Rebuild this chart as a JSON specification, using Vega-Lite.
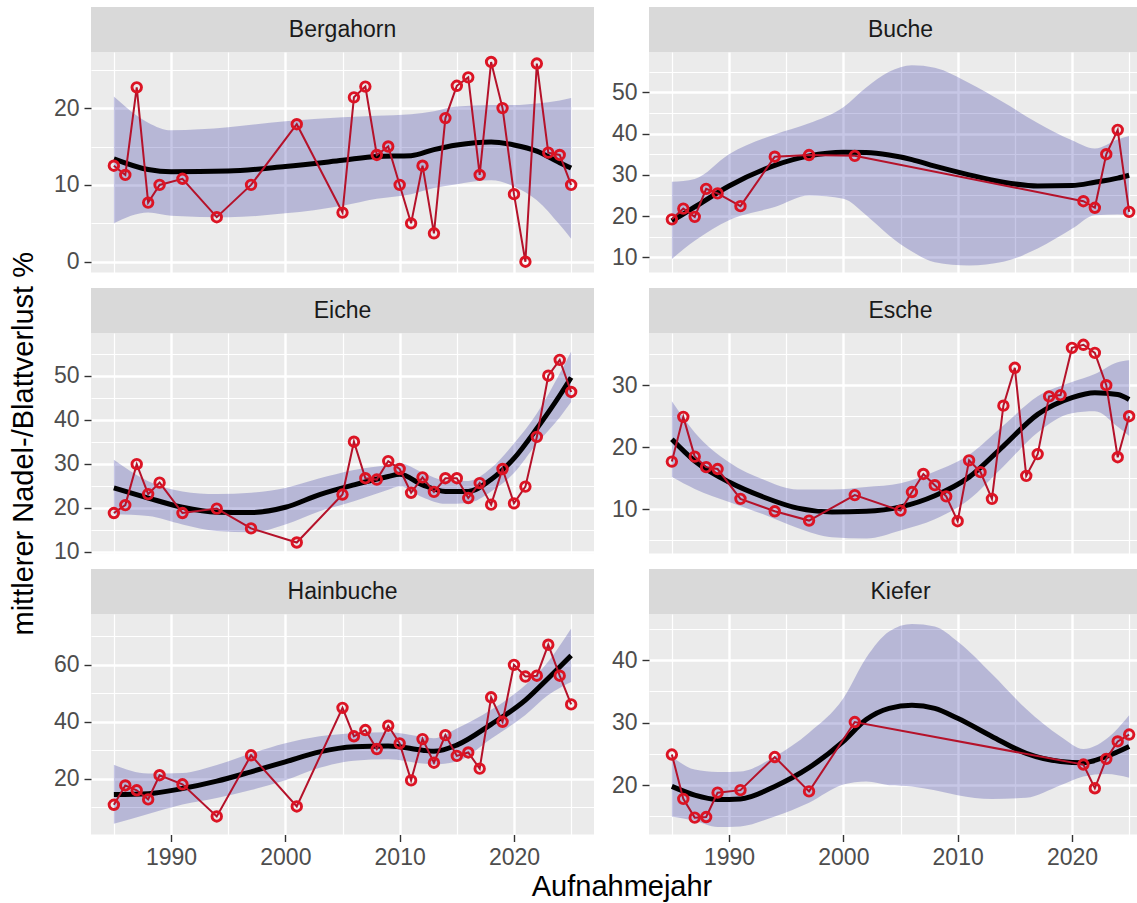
{
  "$schema": "https://vega.github.io/schema/vega-lite/v6.json",
  "padding": {"left": 9, "top": 7, "right": 0, "bottom": 0},
  "config": {
    "font": "Liberation Sans",
    "view": {"stroke": null},
    "axis": {"domain": false, "gridColor": "#FFFFFF", "tickColor": "#333333", "tickSize": 7, "tickWidth": 1.4, "labelFont": "Liberation Sans", "labelFontSize": 23, "labelColor": "#4D4D4D", "labelPadding": 5, "labelOverlap": false, "labelFlush": false, "titleFont": "Liberation Sans", "titleFontSize": 29, "titleFontWeight": "normal", "titleColor": "#000000"}
  },
  "datasets": {
    "pts": [
      {"sp":"Bergahorn","year":1985,"v":12.5},{"sp":"Bergahorn","year":1986,"v":11.3},{"sp":"Bergahorn","year":1987,"v":22.7},{"sp":"Bergahorn","year":1988,"v":7.7},{"sp":"Bergahorn","year":1989,"v":10.0},{"sp":"Bergahorn","year":1991,"v":10.8},{"sp":"Bergahorn","year":1994,"v":5.8},{"sp":"Bergahorn","year":1997,"v":10.0},{"sp":"Bergahorn","year":2001,"v":17.9},{"sp":"Bergahorn","year":2005,"v":6.4},{"sp":"Bergahorn","year":2006,"v":21.4},{"sp":"Bergahorn","year":2007,"v":22.8},{"sp":"Bergahorn","year":2008,"v":13.9},{"sp":"Bergahorn","year":2009,"v":15.0},{"sp":"Bergahorn","year":2010,"v":10.0},{"sp":"Bergahorn","year":2011,"v":5.0},{"sp":"Bergahorn","year":2012,"v":12.5},{"sp":"Bergahorn","year":2013,"v":3.7},{"sp":"Bergahorn","year":2014,"v":18.7},{"sp":"Bergahorn","year":2015,"v":22.9},{"sp":"Bergahorn","year":2016,"v":24.0},{"sp":"Bergahorn","year":2017,"v":11.3},{"sp":"Bergahorn","year":2018,"v":26.0},{"sp":"Bergahorn","year":2019,"v":20.0},{"sp":"Bergahorn","year":2020,"v":8.8},{"sp":"Bergahorn","year":2021,"v":0.0},{"sp":"Bergahorn","year":2022,"v":25.8},{"sp":"Bergahorn","year":2023,"v":14.2},{"sp":"Bergahorn","year":2024,"v":13.9},{"sp":"Bergahorn","year":2025,"v":10.0},
      {"sp":"Buche","year":1985,"v":19.2},{"sp":"Buche","year":1986,"v":21.8},{"sp":"Buche","year":1987,"v":19.8},{"sp":"Buche","year":1988,"v":26.6},{"sp":"Buche","year":1989,"v":25.5},{"sp":"Buche","year":1991,"v":22.4},{"sp":"Buche","year":1994,"v":34.4},{"sp":"Buche","year":1997,"v":34.8},{"sp":"Buche","year":2001,"v":34.6},{"sp":"Buche","year":2021,"v":23.6},{"sp":"Buche","year":2022,"v":22.0},{"sp":"Buche","year":2023,"v":35.0},{"sp":"Buche","year":2024,"v":40.9},{"sp":"Buche","year":2025,"v":21.0},
      {"sp":"Eiche","year":1985,"v":18.8},{"sp":"Eiche","year":1986,"v":20.6},{"sp":"Eiche","year":1987,"v":29.9},{"sp":"Eiche","year":1988,"v":23.1},{"sp":"Eiche","year":1989,"v":25.7},{"sp":"Eiche","year":1991,"v":18.8},{"sp":"Eiche","year":1994,"v":19.8},{"sp":"Eiche","year":1997,"v":15.3},{"sp":"Eiche","year":2001,"v":12.1},{"sp":"Eiche","year":2005,"v":23.0},{"sp":"Eiche","year":2006,"v":35.0},{"sp":"Eiche","year":2007,"v":26.7},{"sp":"Eiche","year":2008,"v":26.4},{"sp":"Eiche","year":2009,"v":30.6},{"sp":"Eiche","year":2010,"v":28.8},{"sp":"Eiche","year":2011,"v":23.4},{"sp":"Eiche","year":2012,"v":26.9},{"sp":"Eiche","year":2013,"v":23.6},{"sp":"Eiche","year":2014,"v":26.7},{"sp":"Eiche","year":2015,"v":26.7},{"sp":"Eiche","year":2016,"v":22.2},{"sp":"Eiche","year":2017,"v":25.6},{"sp":"Eiche","year":2018,"v":20.7},{"sp":"Eiche","year":2019,"v":28.8},{"sp":"Eiche","year":2020,"v":21.0},{"sp":"Eiche","year":2021,"v":24.8},{"sp":"Eiche","year":2022,"v":36.1},{"sp":"Eiche","year":2023,"v":50.0},{"sp":"Eiche","year":2024,"v":53.6},{"sp":"Eiche","year":2025,"v":46.3},
      {"sp":"Esche","year":1985,"v":17.7},{"sp":"Esche","year":1986,"v":24.9},{"sp":"Esche","year":1987,"v":18.5},{"sp":"Esche","year":1988,"v":16.8},{"sp":"Esche","year":1989,"v":16.5},{"sp":"Esche","year":1991,"v":11.7},{"sp":"Esche","year":1994,"v":9.7},{"sp":"Esche","year":1997,"v":8.2},{"sp":"Esche","year":2001,"v":12.3},{"sp":"Esche","year":2005,"v":9.8},{"sp":"Esche","year":2006,"v":12.8},{"sp":"Esche","year":2007,"v":15.7},{"sp":"Esche","year":2008,"v":13.9},{"sp":"Esche","year":2009,"v":12.1},{"sp":"Esche","year":2010,"v":8.1},{"sp":"Esche","year":2011,"v":17.9},{"sp":"Esche","year":2012,"v":16.0},{"sp":"Esche","year":2013,"v":11.7},{"sp":"Esche","year":2014,"v":26.7},{"sp":"Esche","year":2015,"v":32.8},{"sp":"Esche","year":2016,"v":15.4},{"sp":"Esche","year":2017,"v":18.9},{"sp":"Esche","year":2018,"v":28.2},{"sp":"Esche","year":2019,"v":28.4},{"sp":"Esche","year":2020,"v":36.0},{"sp":"Esche","year":2021,"v":36.5},{"sp":"Esche","year":2022,"v":35.2},{"sp":"Esche","year":2023,"v":30.0},{"sp":"Esche","year":2024,"v":18.4},{"sp":"Esche","year":2025,"v":25.0},
      {"sp":"Hainbuche","year":1985,"v":10.8},{"sp":"Hainbuche","year":1986,"v":17.6},{"sp":"Hainbuche","year":1987,"v":15.9},{"sp":"Hainbuche","year":1988,"v":12.7},{"sp":"Hainbuche","year":1989,"v":21.2},{"sp":"Hainbuche","year":1991,"v":18.0},{"sp":"Hainbuche","year":1994,"v":6.7},{"sp":"Hainbuche","year":1997,"v":28.2},{"sp":"Hainbuche","year":2001,"v":10.2},{"sp":"Hainbuche","year":2005,"v":44.9},{"sp":"Hainbuche","year":2006,"v":34.9},{"sp":"Hainbuche","year":2007,"v":37.1},{"sp":"Hainbuche","year":2008,"v":30.4},{"sp":"Hainbuche","year":2009,"v":38.6},{"sp":"Hainbuche","year":2010,"v":32.4},{"sp":"Hainbuche","year":2011,"v":19.4},{"sp":"Hainbuche","year":2012,"v":33.9},{"sp":"Hainbuche","year":2013,"v":25.6},{"sp":"Hainbuche","year":2014,"v":35.3},{"sp":"Hainbuche","year":2015,"v":28.0},{"sp":"Hainbuche","year":2016,"v":29.2},{"sp":"Hainbuche","year":2017,"v":23.5},{"sp":"Hainbuche","year":2018,"v":48.6},{"sp":"Hainbuche","year":2019,"v":40.0},{"sp":"Hainbuche","year":2020,"v":60.0},{"sp":"Hainbuche","year":2021,"v":55.9},{"sp":"Hainbuche","year":2022,"v":56.2},{"sp":"Hainbuche","year":2023,"v":67.1},{"sp":"Hainbuche","year":2024,"v":56.2},{"sp":"Hainbuche","year":2025,"v":46.1},
      {"sp":"Kiefer","year":1985,"v":24.9},{"sp":"Kiefer","year":1986,"v":17.8},{"sp":"Kiefer","year":1987,"v":14.8},{"sp":"Kiefer","year":1988,"v":14.9},{"sp":"Kiefer","year":1989,"v":18.8},{"sp":"Kiefer","year":1991,"v":19.2},{"sp":"Kiefer","year":1994,"v":24.5},{"sp":"Kiefer","year":1997,"v":19.0},{"sp":"Kiefer","year":2001,"v":30.1},{"sp":"Kiefer","year":2021,"v":23.3},{"sp":"Kiefer","year":2022,"v":19.5},{"sp":"Kiefer","year":2023,"v":24.2},{"sp":"Kiefer","year":2024,"v":27.0},{"sp":"Kiefer","year":2025,"v":28.1}
    ],
    "fit": [
      {"sp":"Bergahorn","year":1985,"v":13.4,"lo":5.0,"hi":21.5},{"sp":"Bergahorn","year":1988,"v":12.0,"lo":6.4,"hi":18.1},{"sp":"Bergahorn","year":1990,"v":11.7,"lo":6.0,"hi":17.1},{"sp":"Bergahorn","year":1995,"v":11.8,"lo":5.8,"hi":17.5},{"sp":"Bergahorn","year":2000,"v":12.4,"lo":6.3,"hi":18.3},{"sp":"Bergahorn","year":2005,"v":13.2,"lo":7.3,"hi":18.8},{"sp":"Bergahorn","year":2008,"v":13.7,"lo":8.2,"hi":19.0},{"sp":"Bergahorn","year":2011,"v":13.8,"lo":8.8,"hi":19.2},{"sp":"Bergahorn","year":2013,"v":14.6,"lo":9.6,"hi":19.6},{"sp":"Bergahorn","year":2015,"v":15.2,"lo":10.1,"hi":20.2},{"sp":"Bergahorn","year":2018,"v":15.6,"lo":10.6,"hi":20.4},{"sp":"Bergahorn","year":2020,"v":15.2,"lo":9.8,"hi":20.4},{"sp":"Bergahorn","year":2022,"v":14.4,"lo":8.0,"hi":20.6},{"sp":"Bergahorn","year":2024,"v":12.9,"lo":4.8,"hi":21.0},{"sp":"Bergahorn","year":2025,"v":12.2,"lo":3.0,"hi":21.3},
      {"sp":"Buche","year":1985,"v":18.8,"lo":9.6,"hi":28.3},{"sp":"Buche","year":1987,"v":22.2,"lo":14.0,"hi":29.0},{"sp":"Buche","year":1990,"v":27.3,"lo":19.0,"hi":35.0},{"sp":"Buche","year":1994,"v":32.3,"lo":22.2,"hi":39.8},{"sp":"Buche","year":1997,"v":34.6,"lo":25.0,"hi":42.5},{"sp":"Buche","year":2000,"v":35.5,"lo":24.2,"hi":46.4},{"sp":"Buche","year":2002,"v":35.4,"lo":20.2,"hi":51.2},{"sp":"Buche","year":2004,"v":34.8,"lo":15.3,"hi":55.0},{"sp":"Buche","year":2006,"v":33.7,"lo":11.4,"hi":56.6},{"sp":"Buche","year":2008,"v":32.1,"lo":8.8,"hi":56.0},{"sp":"Buche","year":2011,"v":30.0,"lo":8.0,"hi":52.3},{"sp":"Buche","year":2014,"v":28.2,"lo":8.9,"hi":47.6},{"sp":"Buche","year":2017,"v":27.3,"lo":12.1,"hi":42.6},{"sp":"Buche","year":2020,"v":27.4,"lo":16.9,"hi":38.4},{"sp":"Buche","year":2022,"v":28.2,"lo":20.2,"hi":36.4},{"sp":"Buche","year":2024,"v":29.2,"lo":20.4,"hi":38.6},{"sp":"Buche","year":2025,"v":29.9,"lo":20.2,"hi":39.4},
      {"sp":"Eiche","year":1985,"v":24.5,"lo":18.5,"hi":30.9},{"sp":"Eiche","year":1988,"v":22.2,"lo":18.1,"hi":26.0},{"sp":"Eiche","year":1991,"v":20.1,"lo":16.2,"hi":23.7},{"sp":"Eiche","year":1994,"v":19.0,"lo":14.7,"hi":23.1},{"sp":"Eiche","year":1997,"v":18.9,"lo":14.4,"hi":23.4},{"sp":"Eiche","year":2000,"v":20.1,"lo":16.2,"hi":24.5},{"sp":"Eiche","year":2003,"v":23.0,"lo":19.2,"hi":26.7},{"sp":"Eiche","year":2006,"v":25.2,"lo":21.5,"hi":28.6},{"sp":"Eiche","year":2009,"v":27.1,"lo":24.1,"hi":29.7},{"sp":"Eiche","year":2010,"v":27.6,"lo":24.9,"hi":30.1},{"sp":"Eiche","year":2012,"v":25.2,"lo":22.4,"hi":28.0},{"sp":"Eiche","year":2014,"v":23.7,"lo":20.9,"hi":26.2},{"sp":"Eiche","year":2016,"v":23.7,"lo":21.1,"hi":26.1},{"sp":"Eiche","year":2018,"v":26.4,"lo":23.7,"hi":29.0},{"sp":"Eiche","year":2020,"v":31.2,"lo":27.9,"hi":34.6},{"sp":"Eiche","year":2022,"v":38.0,"lo":34.6,"hi":41.4},{"sp":"Eiche","year":2024,"v":45.5,"lo":40.5,"hi":50.5},{"sp":"Eiche","year":2025,"v":49.6,"lo":44.0,"hi":55.5},
      {"sp":"Esche","year":1985,"v":21.3,"lo":15.2,"hi":27.4},{"sp":"Esche","year":1987,"v":17.8,"lo":13.3,"hi":22.4},{"sp":"Esche","year":1990,"v":14.4,"lo":11.2,"hi":17.6},{"sp":"Esche","year":1993,"v":12.0,"lo":9.2,"hi":14.8},{"sp":"Esche","year":1996,"v":10.2,"lo":7.0,"hi":13.2},{"sp":"Esche","year":1999,"v":9.6,"lo":5.5,"hi":13.2},{"sp":"Esche","year":2002,"v":9.7,"lo":5.3,"hi":13.6},{"sp":"Esche","year":2005,"v":10.4,"lo":6.6,"hi":14.2},{"sp":"Esche","year":2008,"v":12.2,"lo":8.4,"hi":16.1},{"sp":"Esche","year":2011,"v":15.2,"lo":11.6,"hi":18.8},{"sp":"Esche","year":2014,"v":20.2,"lo":16.9,"hi":23.5},{"sp":"Esche","year":2017,"v":25.3,"lo":22.4,"hi":28.2},{"sp":"Esche","year":2020,"v":28.0,"lo":25.5,"hi":30.5},{"sp":"Esche","year":2022,"v":28.8,"lo":25.8,"hi":31.8},{"sp":"Esche","year":2024,"v":28.5,"lo":23.3,"hi":33.7},{"sp":"Esche","year":2025,"v":27.7,"lo":21.8,"hi":34.0},
      {"sp":"Hainbuche","year":1985,"v":14.4,"lo":4.1,"hi":24.9},{"sp":"Hainbuche","year":1988,"v":14.7,"lo":7.6,"hi":21.8},{"sp":"Hainbuche","year":1991,"v":16.5,"lo":10.9,"hi":22.0},{"sp":"Hainbuche","year":1994,"v":19.1,"lo":13.2,"hi":24.8},{"sp":"Hainbuche","year":1997,"v":22.4,"lo":16.0,"hi":28.8},{"sp":"Hainbuche","year":2000,"v":25.9,"lo":19.4,"hi":32.4},{"sp":"Hainbuche","year":2003,"v":29.4,"lo":23.8,"hi":34.9},{"sp":"Hainbuche","year":2006,"v":31.2,"lo":26.3,"hi":36.0},{"sp":"Hainbuche","year":2009,"v":31.5,"lo":26.8,"hi":36.3},{"sp":"Hainbuche","year":2012,"v":30.0,"lo":25.3,"hi":34.7},{"sp":"Hainbuche","year":2013,"v":29.6,"lo":25.0,"hi":34.2},{"sp":"Hainbuche","year":2015,"v":31.8,"lo":26.0,"hi":37.6},{"sp":"Hainbuche","year":2018,"v":39.1,"lo":34.0,"hi":44.2},{"sp":"Hainbuche","year":2021,"v":47.6,"lo":42.4,"hi":52.9},{"sp":"Hainbuche","year":2023,"v":55.3,"lo":49.4,"hi":61.2},{"sp":"Hainbuche","year":2025,"v":63.3,"lo":54.0,"hi":72.8},
      {"sp":"Kiefer","year":1985,"v":19.8,"lo":15.0,"hi":24.6},{"sp":"Kiefer","year":1987,"v":18.4,"lo":14.3,"hi":22.5},{"sp":"Kiefer","year":1989,"v":17.7,"lo":13.3,"hi":22.1},{"sp":"Kiefer","year":1991,"v":17.8,"lo":13.4,"hi":22.2},{"sp":"Kiefer","year":1994,"v":19.8,"lo":15.0,"hi":24.6},{"sp":"Kiefer","year":1997,"v":22.8,"lo":17.2,"hi":28.4},{"sp":"Kiefer","year":2000,"v":27.0,"lo":20.1,"hi":33.9},{"sp":"Kiefer","year":2002,"v":30.5,"lo":20.6,"hi":40.4},{"sp":"Kiefer","year":2004,"v":32.3,"lo":20.0,"hi":44.6},{"sp":"Kiefer","year":2006,"v":32.8,"lo":19.8,"hi":45.8},{"sp":"Kiefer","year":2008,"v":32.3,"lo":19.2,"hi":45.4},{"sp":"Kiefer","year":2010,"v":30.7,"lo":18.4,"hi":43.0},{"sp":"Kiefer","year":2013,"v":27.8,"lo":17.8,"hi":37.8},{"sp":"Kiefer","year":2016,"v":25.1,"lo":18.0,"hi":32.2},{"sp":"Kiefer","year":2019,"v":23.8,"lo":20.0,"hi":27.8},{"sp":"Kiefer","year":2021,"v":23.6,"lo":21.4,"hi":25.8},{"sp":"Kiefer","year":2023,"v":24.6,"lo":21.8,"hi":27.4},{"sp":"Kiefer","year":2025,"v":26.2,"lo":21.2,"hi":31.2}
    ]
  },
  "bounds": "flush",
  "align": "each",
  "columns": 2,
  "spacing": {"row": 0, "column": 55},
  "concat": [
    {"width": 503, "height": 45, "view": {"fill": "#D9D9D9", "stroke": null}, "data": {"values": [{"sp": "Bergahorn"}]}, "mark": {"type": "text", "fontSize": 23, "color": "#1A1A1A", "font": "Liberation Sans"}, "encoding": {"text": {"field": "sp", "type": "nominal"}}},
    {"width": 503, "height": 45, "view": {"fill": "#D9D9D9", "stroke": null}, "data": {"values": [{"sp": "Buche"}]}, "mark": {"type": "text", "fontSize": 23, "color": "#1A1A1A", "font": "Liberation Sans"}, "encoding": {"text": {"field": "sp", "type": "nominal"}}},
    {"width": 503, "height": 220.5, "view": {"fill": "#EBEBEB", "stroke": null},
     "encoding": {
       "x": {"field": "year", "type": "quantitative", "scale": {"domain": [1983, 2027], "nice": false, "zero": false}, "axis": {"title": null, "values": [1985,1990,1995,2000,2005,2010,2015,2020,2025], "labels": false, "ticks": false, "gridWidth": {"condition": {"test": "datum.value % 10 === 0", "value": 2.4}, "value": 1.2}}},
       "y": {"field": "v", "type": "quantitative", "scale": {"domain": [-1.4, 27.3], "nice": false, "zero": false}, "axis": {"title": null, "values": [0,5,10,15,20,25], "gridWidth": {"condition": {"test": "datum.value % 10 === 0", "value": 2.4}, "value": 1.2}, "tickOpacity": {"condition": {"test": "datum.value % 10 === 0", "value": 1}, "value": 0}, "labelExpr": "datum.value % 10 === 0 ? datum.label : ''"}}
     },
     "layer": [
       {"data": {"name": "fit"}, "transform": [{"filter": "datum.sp === 'Bergahorn'"}], "mark": {"type": "area", "interpolate": "monotone", "color": "#00008B", "opacity": 0.22},
        "encoding": {"y": {"field": "lo", "type": "quantitative", "scale": {"domain": [-1.4, 27.3], "nice": false, "zero": false}, "axis": {"title": null, "values": [0,5,10,15,20,25], "gridWidth": {"condition": {"test": "datum.value % 10 === 0", "value": 2.4}, "value": 1.2}, "tickOpacity": {"condition": {"test": "datum.value % 10 === 0", "value": 1}, "value": 0}, "labelExpr": "datum.value % 10 === 0 ? datum.label : ''"}}, "y2": {"field": "hi"}}},
       {"data": {"name": "fit"}, "transform": [{"filter": "datum.sp === 'Bergahorn'"}], "mark": {"type": "line", "interpolate": "monotone", "color": "#000000", "strokeWidth": 5}},
       {"data": {"name": "pts"}, "transform": [{"filter": "datum.sp === 'Bergahorn'"}], "mark": {"type": "line", "color": "#B5122A", "strokeWidth": 2}},
       {"data": {"name": "pts"}, "transform": [{"filter": "datum.sp === 'Bergahorn'"}], "mark": {"type": "point", "shape": "circle", "filled": false, "color": "#DC1424", "strokeWidth": 2.9, "size": 90, "opacity": 1}}
     ]},
    {"width": 503, "height": 220.5, "view": {"fill": "#EBEBEB", "stroke": null},
     "encoding": {
       "x": {"field": "year", "type": "quantitative", "scale": {"domain": [1983, 2027], "nice": false, "zero": false}, "axis": {"title": null, "values": [1985,1990,1995,2000,2005,2010,2015,2020,2025], "labels": false, "ticks": false, "gridWidth": {"condition": {"test": "datum.value % 10 === 0", "value": 2.4}, "value": 1.2}}},
       "y": {"field": "v", "type": "quantitative", "scale": {"domain": [6.3, 59.8], "nice": false, "zero": false}, "axis": {"title": null, "values": [10,15,20,25,30,35,40,45,50,55], "gridWidth": {"condition": {"test": "datum.value % 10 === 0", "value": 2.4}, "value": 1.2}, "tickOpacity": {"condition": {"test": "datum.value % 10 === 0", "value": 1}, "value": 0}, "labelExpr": "datum.value % 10 === 0 ? datum.label : ''"}}
     },
     "layer": [
       {"data": {"name": "fit"}, "transform": [{"filter": "datum.sp === 'Buche'"}], "mark": {"type": "area", "interpolate": "monotone", "color": "#00008B", "opacity": 0.22},
        "encoding": {"y": {"field": "lo", "type": "quantitative", "scale": {"domain": [6.3, 59.8], "nice": false, "zero": false}, "axis": {"title": null, "values": [10,15,20,25,30,35,40,45,50,55], "gridWidth": {"condition": {"test": "datum.value % 10 === 0", "value": 2.4}, "value": 1.2}, "tickOpacity": {"condition": {"test": "datum.value % 10 === 0", "value": 1}, "value": 0}, "labelExpr": "datum.value % 10 === 0 ? datum.label : ''"}}, "y2": {"field": "hi"}}},
       {"data": {"name": "fit"}, "transform": [{"filter": "datum.sp === 'Buche'"}], "mark": {"type": "line", "interpolate": "monotone", "color": "#000000", "strokeWidth": 5}},
       {"data": {"name": "pts"}, "transform": [{"filter": "datum.sp === 'Buche'"}], "mark": {"type": "line", "color": "#B5122A", "strokeWidth": 2}},
       {"data": {"name": "pts"}, "transform": [{"filter": "datum.sp === 'Buche'"}], "mark": {"type": "point", "shape": "circle", "filled": false, "color": "#DC1424", "strokeWidth": 2.9, "size": 90, "opacity": 1}}
     ]},
    {"width": 503, "height": 15, "data": {"values": []}, "mark": "point"},
    {"width": 503, "height": 15, "data": {"values": []}, "mark": "point"},
    {"width": 503, "height": 45, "view": {"fill": "#D9D9D9", "stroke": null}, "data": {"values": [{"sp": "Eiche"}]}, "mark": {"type": "text", "fontSize": 23, "color": "#1A1A1A", "font": "Liberation Sans"}, "encoding": {"text": {"field": "sp", "type": "nominal"}}},
    {"width": 503, "height": 45, "view": {"fill": "#D9D9D9", "stroke": null}, "data": {"values": [{"sp": "Esche"}]}, "mark": {"type": "text", "fontSize": 23, "color": "#1A1A1A", "font": "Liberation Sans"}, "encoding": {"text": {"field": "sp", "type": "nominal"}}},
    {"width": 503, "height": 220.5, "view": {"fill": "#EBEBEB", "stroke": null},
     "encoding": {
       "x": {"field": "year", "type": "quantitative", "scale": {"domain": [1983, 2027], "nice": false, "zero": false}, "axis": {"title": null, "values": [1985,1990,1995,2000,2005,2010,2015,2020,2025], "labels": false, "ticks": false, "gridWidth": {"condition": {"test": "datum.value % 10 === 0", "value": 2.4}, "value": 1.2}}},
       "y": {"field": "v", "type": "quantitative", "scale": {"domain": [9.6, 59.7], "nice": false, "zero": false}, "axis": {"title": "mittlerer Nadel-/Blattverlust %", "titlePadding": 15, "values": [10,15,20,25,30,35,40,45,50,55], "gridWidth": {"condition": {"test": "datum.value % 10 === 0", "value": 2.4}, "value": 1.2}, "tickOpacity": {"condition": {"test": "datum.value % 10 === 0", "value": 1}, "value": 0}, "labelExpr": "datum.value % 10 === 0 ? datum.label : ''"}}
     },
     "layer": [
       {"data": {"name": "fit"}, "transform": [{"filter": "datum.sp === 'Eiche'"}], "mark": {"type": "area", "interpolate": "monotone", "color": "#00008B", "opacity": 0.22},
        "encoding": {"y": {"field": "lo", "type": "quantitative", "scale": {"domain": [9.6, 59.7], "nice": false, "zero": false}, "axis": {"title": "mittlerer Nadel-/Blattverlust %", "titlePadding": 15, "values": [10,15,20,25,30,35,40,45,50,55], "gridWidth": {"condition": {"test": "datum.value % 10 === 0", "value": 2.4}, "value": 1.2}, "tickOpacity": {"condition": {"test": "datum.value % 10 === 0", "value": 1}, "value": 0}, "labelExpr": "datum.value % 10 === 0 ? datum.label : ''"}}, "y2": {"field": "hi"}}},
       {"data": {"name": "fit"}, "transform": [{"filter": "datum.sp === 'Eiche'"}], "mark": {"type": "line", "interpolate": "monotone", "color": "#000000", "strokeWidth": 5}},
       {"data": {"name": "pts"}, "transform": [{"filter": "datum.sp === 'Eiche'"}], "mark": {"type": "line", "color": "#B5122A", "strokeWidth": 2}},
       {"data": {"name": "pts"}, "transform": [{"filter": "datum.sp === 'Eiche'"}], "mark": {"type": "point", "shape": "circle", "filled": false, "color": "#DC1424", "strokeWidth": 2.9, "size": 90, "opacity": 1}}
     ]},
    {"width": 503, "height": 220.5, "view": {"fill": "#EBEBEB", "stroke": null},
     "encoding": {
       "x": {"field": "year", "type": "quantitative", "scale": {"domain": [1983, 2027], "nice": false, "zero": false}, "axis": {"title": null, "values": [1985,1990,1995,2000,2005,2010,2015,2020,2025], "labels": false, "ticks": false, "gridWidth": {"condition": {"test": "datum.value % 10 === 0", "value": 2.4}, "value": 1.2}}},
       "y": {"field": "v", "type": "quantitative", "scale": {"domain": [2.9, 38.4], "nice": false, "zero": false}, "axis": {"title": null, "values": [5,10,15,20,25,30,35], "gridWidth": {"condition": {"test": "datum.value % 10 === 0", "value": 2.4}, "value": 1.2}, "tickOpacity": {"condition": {"test": "datum.value % 10 === 0", "value": 1}, "value": 0}, "labelExpr": "datum.value % 10 === 0 ? datum.label : ''"}}
     },
     "layer": [
       {"data": {"name": "fit"}, "transform": [{"filter": "datum.sp === 'Esche'"}], "mark": {"type": "area", "interpolate": "monotone", "color": "#00008B", "opacity": 0.22},
        "encoding": {"y": {"field": "lo", "type": "quantitative", "scale": {"domain": [2.9, 38.4], "nice": false, "zero": false}, "axis": {"title": null, "values": [5,10,15,20,25,30,35], "gridWidth": {"condition": {"test": "datum.value % 10 === 0", "value": 2.4}, "value": 1.2}, "tickOpacity": {"condition": {"test": "datum.value % 10 === 0", "value": 1}, "value": 0}, "labelExpr": "datum.value % 10 === 0 ? datum.label : ''"}}, "y2": {"field": "hi"}}},
       {"data": {"name": "fit"}, "transform": [{"filter": "datum.sp === 'Esche'"}], "mark": {"type": "line", "interpolate": "monotone", "color": "#000000", "strokeWidth": 5}},
       {"data": {"name": "pts"}, "transform": [{"filter": "datum.sp === 'Esche'"}], "mark": {"type": "line", "color": "#B5122A", "strokeWidth": 2}},
       {"data": {"name": "pts"}, "transform": [{"filter": "datum.sp === 'Esche'"}], "mark": {"type": "point", "shape": "circle", "filled": false, "color": "#DC1424", "strokeWidth": 2.9, "size": 90, "opacity": 1}}
     ]},
    {"width": 503, "height": 15, "data": {"values": []}, "mark": "point"},
    {"width": 503, "height": 15, "data": {"values": []}, "mark": "point"},
    {"width": 503, "height": 45, "view": {"fill": "#D9D9D9", "stroke": null}, "data": {"values": [{"sp": "Hainbuche"}]}, "mark": {"type": "text", "fontSize": 23, "color": "#1A1A1A", "font": "Liberation Sans"}, "encoding": {"text": {"field": "sp", "type": "nominal"}}},
    {"width": 503, "height": 45, "view": {"fill": "#D9D9D9", "stroke": null}, "data": {"values": [{"sp": "Kiefer"}]}, "mark": {"type": "text", "fontSize": 23, "color": "#1A1A1A", "font": "Liberation Sans"}, "encoding": {"text": {"field": "sp", "type": "nominal"}}},
    {"width": 503, "height": 220.5, "view": {"fill": "#EBEBEB", "stroke": null},
     "encoding": {
       "x": {"field": "year", "type": "quantitative", "scale": {"domain": [1983, 2027], "nice": false, "zero": false}, "axis": {"title": "Aufnahmejahr", "titleX": 530.5, "titleAlign": "center", "titlePadding": 3, "values": [1985,1990,1995,2000,2005,2010,2015,2020,2025], "format": "d", "labelExpr": "datum.value % 10 === 0 ? datum.label : ''", "tickOpacity": {"condition": {"test": "datum.value % 10 === 0", "value": 1}, "value": 0}, "gridWidth": {"condition": {"test": "datum.value % 10 === 0", "value": 2.4}, "value": 1.2}}},
       "y": {"field": "v", "type": "quantitative", "scale": {"domain": [0.35, 77.9], "nice": false, "zero": false}, "axis": {"title": null, "values": [10,20,30,40,50,60,70], "gridWidth": {"condition": {"test": "datum.value % 20 === 0", "value": 2.4}, "value": 1.2}, "tickOpacity": {"condition": {"test": "datum.value % 20 === 0", "value": 1}, "value": 0}, "labelExpr": "datum.value % 20 === 0 ? datum.label : ''"}}
     },
     "layer": [
       {"data": {"name": "fit"}, "transform": [{"filter": "datum.sp === 'Hainbuche'"}], "mark": {"type": "area", "interpolate": "monotone", "color": "#00008B", "opacity": 0.22},
        "encoding": {"y": {"field": "lo", "type": "quantitative", "scale": {"domain": [0.35, 77.9], "nice": false, "zero": false}, "axis": {"title": null, "values": [10,20,30,40,50,60,70], "gridWidth": {"condition": {"test": "datum.value % 20 === 0", "value": 2.4}, "value": 1.2}, "tickOpacity": {"condition": {"test": "datum.value % 20 === 0", "value": 1}, "value": 0}, "labelExpr": "datum.value % 20 === 0 ? datum.label : ''"}}, "y2": {"field": "hi"}}},
       {"data": {"name": "fit"}, "transform": [{"filter": "datum.sp === 'Hainbuche'"}], "mark": {"type": "line", "interpolate": "monotone", "color": "#000000", "strokeWidth": 5}},
       {"data": {"name": "pts"}, "transform": [{"filter": "datum.sp === 'Hainbuche'"}], "mark": {"type": "line", "color": "#B5122A", "strokeWidth": 2}},
       {"data": {"name": "pts"}, "transform": [{"filter": "datum.sp === 'Hainbuche'"}], "mark": {"type": "point", "shape": "circle", "filled": false, "color": "#DC1424", "strokeWidth": 2.9, "size": 90, "opacity": 1}}
     ]},
    {"width": 503, "height": 220.5, "view": {"fill": "#EBEBEB", "stroke": null},
     "encoding": {
       "x": {"field": "year", "type": "quantitative", "scale": {"domain": [1983, 2027], "nice": false, "zero": false}, "axis": {"title": null, "values": [1985,1990,1995,2000,2005,2010,2015,2020,2025], "format": "d", "labelExpr": "datum.value % 10 === 0 ? datum.label : ''", "tickOpacity": {"condition": {"test": "datum.value % 10 === 0", "value": 1}, "value": 0}, "gridWidth": {"condition": {"test": "datum.value % 10 === 0", "value": 2.4}, "value": 1.2}}},
       "y": {"field": "v", "type": "quantitative", "scale": {"domain": [12.1, 47.4], "nice": false, "zero": false}, "axis": {"title": null, "values": [15,20,25,30,35,40,45], "gridWidth": {"condition": {"test": "datum.value % 10 === 0", "value": 2.4}, "value": 1.2}, "tickOpacity": {"condition": {"test": "datum.value % 10 === 0", "value": 1}, "value": 0}, "labelExpr": "datum.value % 10 === 0 ? datum.label : ''"}}
     },
     "layer": [
       {"data": {"name": "fit"}, "transform": [{"filter": "datum.sp === 'Kiefer'"}], "mark": {"type": "area", "interpolate": "monotone", "color": "#00008B", "opacity": 0.22},
        "encoding": {"y": {"field": "lo", "type": "quantitative", "scale": {"domain": [12.1, 47.4], "nice": false, "zero": false}, "axis": {"title": null, "values": [15,20,25,30,35,40,45], "gridWidth": {"condition": {"test": "datum.value % 10 === 0", "value": 2.4}, "value": 1.2}, "tickOpacity": {"condition": {"test": "datum.value % 10 === 0", "value": 1}, "value": 0}, "labelExpr": "datum.value % 10 === 0 ? datum.label : ''"}}, "y2": {"field": "hi"}}},
       {"data": {"name": "fit"}, "transform": [{"filter": "datum.sp === 'Kiefer'"}], "mark": {"type": "line", "interpolate": "monotone", "color": "#000000", "strokeWidth": 5}},
       {"data": {"name": "pts"}, "transform": [{"filter": "datum.sp === 'Kiefer'"}], "mark": {"type": "line", "color": "#B5122A", "strokeWidth": 2}},
       {"data": {"name": "pts"}, "transform": [{"filter": "datum.sp === 'Kiefer'"}], "mark": {"type": "point", "shape": "circle", "filled": false, "color": "#DC1424", "strokeWidth": 2.9, "size": 90, "opacity": 1}}
     ]}
  ]
}
